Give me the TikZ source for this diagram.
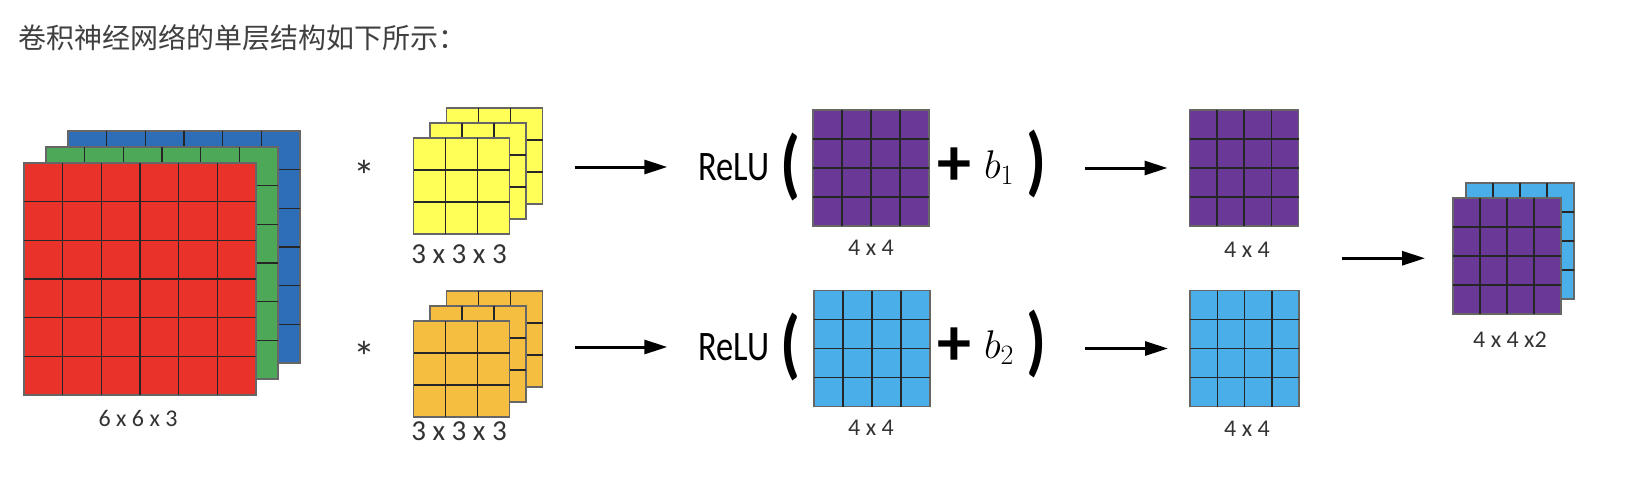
\RequirePackage{fix-cm}
\documentclass[tikz,border=0pt]{standalone}
\usepackage{graphicx}
\usepackage{fontspec}
\setmainfont{Carlito}
\newfontfamily\cjkfont{Noto Sans CJK SC}
\newfontfamily\relufont[FakeStretch=0.82]{Carlito}
\usetikzlibrary{arrows.meta,calc}

\definecolor{chRed}{HTML}{E8322A}
\definecolor{chGreen}{HTML}{4DA857}
\definecolor{chBlue}{HTML}{2E6EB8}
\definecolor{chYellow}{HTML}{FFFF57}
\definecolor{chOrange}{HTML}{F5BE41}
\definecolor{chPurple}{HTML}{6A3896}
\definecolor{chSky}{HTML}{4AAEE8}

% tall bracket of the ReLU( ... ) expression
\newcommand{\tallparen}[1]{\resizebox*{20pt}{68pt}{\bfseries #1}}

\begin{document}
\begin{tikzpicture}[x=1pt, y=-1pt,
    fmap/.style={draw=black!60, line width=1.6pt, inner sep=0pt, outer sep=0pt},
    cell/.style={draw=black!85, line width=1.5pt},
    title/.style={font=\cjkfont\fontsize{28}{32}\selectfont, text=black!75, inner sep=0pt},
    dim/.style={font=\fontsize{24}{28}\selectfont, text=black!80, inner sep=0pt},
    fdim/.style={dim, font=\fontsize{29}{33}\selectfont},
    star/.style={font=\fontsize{44}{48}\selectfont, text=black!80, inner sep=0pt},
    relu/.style={font=\relufont\fontsize{42}{46}\selectfont, inner sep=0pt},
    paren/.style={inner sep=0pt},
    plus/.style={font=\bfseries\fontsize{68}{72}\selectfont, inner sep=0pt},
    bias/.style={font=\fontsize{40}{44}\selectfont, inner sep=0pt},
    arr/.style={-{Triangle[length=23pt,width=14pt]}, line width=3pt}
]

\fill[white] (0,0) rectangle (1638,490);
\useasboundingbox (0,0) rectangle (1638,490);

\node[title, anchor=west] (title) at (18,38) {卷积神经网络的单层结构如下所示：};

% feature maps: name / x / y / width / height / cells / colour
\foreach \name/\px/\py/\w/\h/\n/\col in {
    inB/184/247/232/232/6/chBlue,
    inG/162/263/232/232/6/chGreen,
    inR/140/279/232/232/6/chRed,
    filAc/494.5/156/96/96/3/chYellow,
    filAb/478/171/96/96/3/chYellow,
    filAa/461.5/186/96/96/3/chYellow,
    filBc/494.5/339/96/96/3/chOrange,
    filBb/478/354/96/96/3/chOrange,
    filBa/461.5/369/96/96/3/chOrange,
    sumA/871/168/116/116/4/chPurple,
    sumB/872/348.5/116/116/4/chSky,
    outA/1244/168/109/116/4/chPurple,
    outB/1244.5/348.5/109/116/4/chSky,
    finB/1520/241/108/116/4/chSky,
    finA/1507/256/108/116/4/chPurple}
{
    \node[fmap, fill=\col, minimum width=\w, minimum height=\h] (\name) at (\px,\py) {};
    \pgfmathtruncatemacro{\m}{\n-1}
    \foreach \k in {1,...,\m}{
        \draw[cell] ($(\name.north west)!\k/\n!(\name.north east)$) -- ($(\name.south west)!\k/\n!(\name.south east)$);
        \draw[cell] ($(\name.north west)!\k/\n!(\name.south west)$) -- ($(\name.north east)!\k/\n!(\name.south east)$);
    }
}

% sizes
\node[dim]  (lblIn)   at (138,418)  {6 x 6 x 3};
\node[fdim] (lblFilA) at (459,254)  {3 x 3 x 3};
\node[fdim] (lblFilB) at (459,431)  {3 x 3 x 3};
\node[dim]  (lblSumA) at (871,248)  {4 x 4};
\node[dim]  (lblSumB) at (871,428)  {4 x 4};
\node[dim]  (lblOutA) at (1247,250) {4 x 4};
\node[dim]  (lblOutB) at (1247,429) {4 x 4};
\node[dim]  (lblFin)  at (1510,340) {4 x 4 x2};

\node[star] (astA) at (364,176) {*};
\node[star] (astB) at (364,357) {*};

% first filter
\node[relu] (reluA) at (734,167) {ReLU};
\node[paren] (lpA) at (790,167) {\tallparen{(}};
\node[plus] (plusA) at (954,167) {+};
\node[bias, anchor=base] (biasA) at (999,178) {$b_1$};
\node[paren] (rpA) at (1036,164) {\tallparen{)}};

% second filter
\node[relu] (reluB) at (734,347) {ReLU};
\node[paren] (lpB) at (790,347) {\tallparen{(}};
\node[plus] (plusB) at (954,347) {+};
\node[bias, anchor=base] (biasB) at (999,358) {$b_2$};
\node[paren] (rpB) at (1036,344) {\tallparen{)}};

\draw[arr, shorten <=32pt, shorten >=31pt] (filAc.east |- reluA.west) -- (reluA.west);
\draw[arr, shorten <=32pt, shorten >=31pt] (filBc.east |- reluB.west) -- (reluB.west);
\draw[arr, shorten <=39pt, shorten >=22pt] (rpA.east |- outA.west) -- (outA.west);
\draw[arr, shorten <=39pt, shorten >=22pt] (rpB.east |- outB.west) -- (outB.west);

\coordinate (merge) at ($(outA.east)!0.5!(outB.east)$);
\draw[arr, shorten <=43pt, shorten >=28pt] (merge) -- (merge -| finA.west);

\end{tikzpicture}
\end{document}
